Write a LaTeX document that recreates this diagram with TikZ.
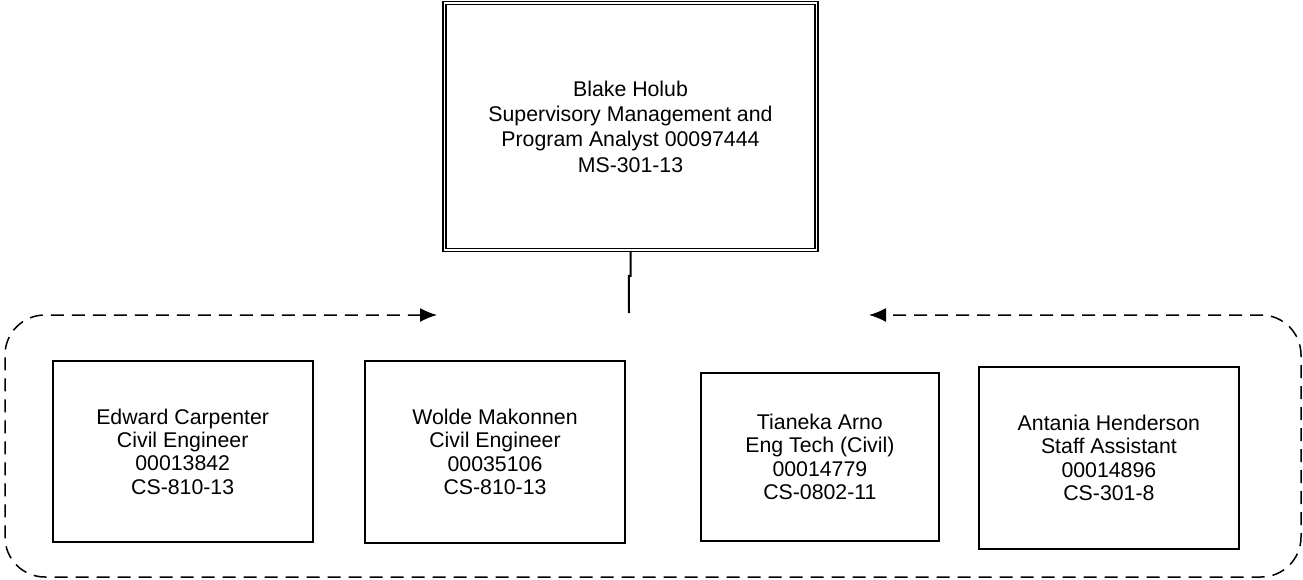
\documentclass[tikz,border=0pt]{standalone}
\usepackage{fontspec}
\setmainfont{Liberation Sans}
\usepackage{tikz}
\usetikzlibrary{positioning,arrows.meta}

\tikzset{
    chief/.style={draw, rectangle, double, double distance=1.8pt, line width=1.3pt, align=center, inner sep=0pt, font=\fontsize{21.3}{25.3}\selectfont},
    staff/.style={draw, rectangle, line width=2pt, align=center, inner sep=0pt, font=\fontsize{21.3}{23.4}\selectfont},
    loop/.style={dashed, dash pattern=on 13pt off 8pt, line width=1.5pt, rounded corners=40pt, {Latex[length=17pt,width=14pt]}-{Latex[length=17pt,width=14pt]}}
}

\begin{document}
\begin{tikzpicture}[x=1pt, y=-1pt]
    \useasboundingbox (0,0) rectangle (1303,580);

    \node[chief, minimum width=372pt, minimum height=247.5pt] (holub) at (630.5,126.5) {Blake Holub\\Supervisory Management and\\Program Analyst 00097444\\MS-301-13};

    \node[staff, minimum width=260pt, minimum height=181.6pt] (carpenter) at (182.7,451.5) {Edward Carpenter\\Civil Engineer\\00013842\\CS-810-13};
    \node[staff, minimum width=260pt, minimum height=182pt] (makonnen) at (495,451.7) {Wolde Makonnen\\Civil Engineer\\00035106\\CS-810-13};
    \node[staff, minimum width=238pt, minimum height=168pt] (arno) at (819.9,456.9) {Tianeka Arno\\Eng Tech (Civil)\\00014779\\CS-0802-11};
    \node[staff, minimum width=260pt, minimum height=182pt] (henderson) at (1108.9,457.9) {Antania Henderson\\Staff Assistant\\00014896\\CS-301-8};

    \coordinate (join) at (629,313);
    \coordinate (lefttip) at (437,315);
    \coordinate (righttip) at (869,315);

    \draw[line width=2pt] (holub.south) -- ++(0,25) -- ++(-1.7,0) -- (join);
    \draw[loop] (lefttip) -- (5,315) -- (5,577) -- (1301,577) -- (1301,315) -- (righttip);
\end{tikzpicture}
\end{document}
